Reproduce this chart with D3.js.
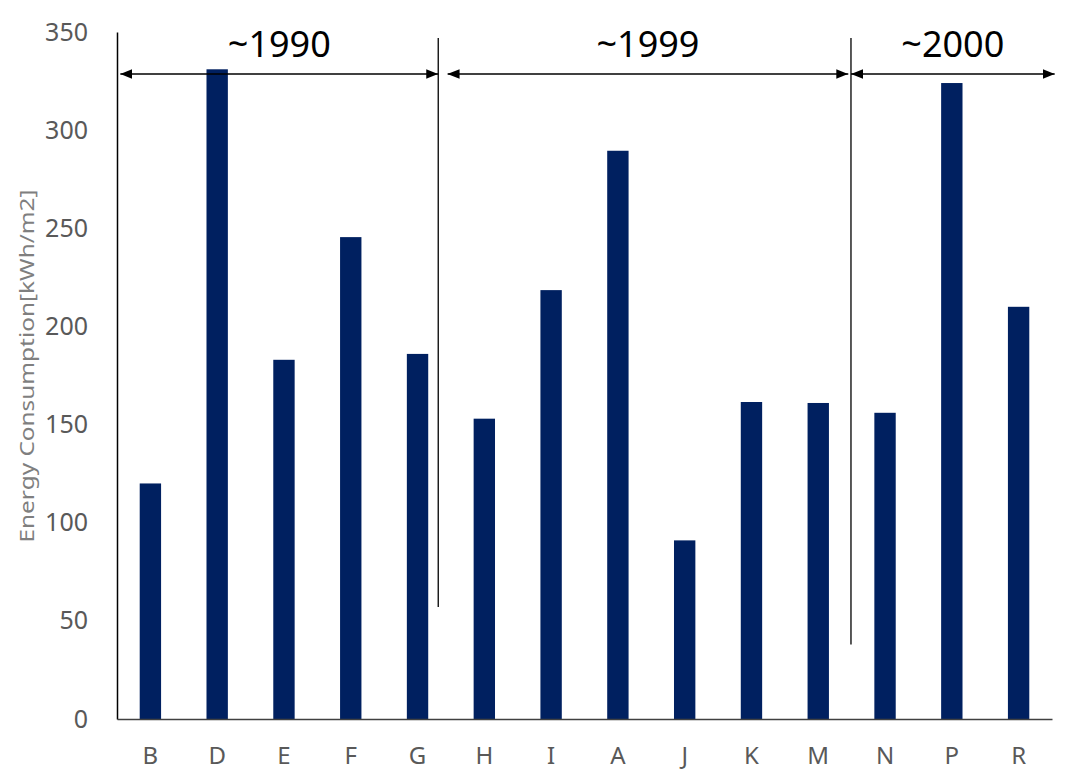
<!DOCTYPE html>
<html><head><meta charset="utf-8">
<script src="https://cdn.jsdelivr.net/npm/d3@7"></script>
<style>body{margin:0;background:#fff;} svg{display:block;}</style>
</head><body>
<svg id="c" width="1069" height="783"></svg>
<script>
const categories = ["B","D","E","F","G","H","I","A","J","K","M","N","P","R"];
const values = [120,331,183,245.5,186,153,218.5,289.5,91,161.5,161,156,324,210];
const yTicks = [0,50,100,150,200,250,300,350];
const periodLabels = ["~1990","~1999","~2000"];
// period spans in category-index units (start, end)
const periodStarts = [0.05,4.95,10.99];
const periodEnds = [4.81,10.95,14.04];
// divider lines: index position and top/bottom in data units
const dividerPos = [4.81,10.99];
const dividerBottom = [57,38];
const dividerTop = 347;

(function(){
const svg = d3.select("#c");
const mLeft = 117, mRight = 1052, mTop = 32, mBottom = 719;
const font = "'Noto Sans', sans-serif";

const x = d3.scaleBand().domain(categories).range([mLeft,mRight]).paddingInner(0.68).paddingOuter(0.34);
const y = d3.scaleLinear().domain([0,350]).range([mBottom,mTop]);
const xi = d3.scaleLinear().domain([0,categories.length]).range([mLeft,mRight]);

// bars
svg.append("g").selectAll("rect").data(values).join("rect")
  .attr("x",(d,i)=>x(categories[i])).attr("width",x.bandwidth())
  .attr("y",d=>y(d)).attr("height",d=>y(0)-y(d))
  .attr("fill","#002060");

// axes
const yAxis = d3.axisLeft(y).tickValues(yTicks).tickSize(0).tickPadding(29);
const gy = svg.append("g").attr("transform",`translate(${mLeft},0)`).call(yAxis);
gy.select(".domain").attr("stroke","#000").attr("stroke-width",1.5);
gy.selectAll("text").attr("font-family",font).attr("font-size",25).attr("fill","#595959");

const xAxis = d3.axisBottom(x).tickSize(0).tickPadding(28);
const gx = svg.append("g").attr("transform",`translate(0,${mBottom})`).call(xAxis);
gx.select(".domain").attr("stroke","#404040").attr("stroke-width",1.5);
gx.selectAll("text").attr("font-family",font).attr("font-size",24).attr("fill","#595959");

// y title
svg.append("text").attr("transform",`translate(34,366) rotate(-90)`)
  .attr("text-anchor","middle").attr("font-family",font).attr("font-size",19)
  .attr("textLength",353).attr("lengthAdjust","spacingAndGlyphs")
  .attr("fill","#7f7f7f").text("Energy Consumption[kWh/m2]");

// markers
const defs = svg.append("defs");
defs.append("marker").attr("id","ah").attr("viewBox","0 0 10 10").attr("refX",10).attr("refY",5)
  .attr("markerWidth",12).attr("markerHeight",12).attr("markerUnits","userSpaceOnUse").attr("orient","auto-start-reverse")
  .append("path").attr("d","M0,1 L10,5 L0,9 Z").attr("fill","#000");

// dividers
svg.append("g").selectAll("line").data(dividerPos).join("line")
  .attr("x1",d=>xi(d)).attr("x2",d=>xi(d))
  .attr("y1",y(dividerTop)).attr("y2",(d,i)=>y(dividerBottom[i]))
  .attr("stroke","#000").attr("stroke-width",1.3);

// arrows
const arrowY = 74;
svg.append("g").selectAll("line").data(periodStarts).join("line")
  .attr("x1",d=>xi(d)).attr("x2",(d,i)=>xi(periodEnds[i]))
  .attr("y1",arrowY).attr("y2",arrowY)
  .attr("stroke","#000").attr("stroke-width",1.5)
  .attr("marker-start","url(#ah)").attr("marker-end","url(#ah)");

svg.append("g").selectAll("text").data(periodLabels).join("text")
  .attr("x",(d,i)=>(xi(periodStarts[i])+xi(periodEnds[i]))/2)
  .attr("y",57).attr("text-anchor","middle")
  .attr("font-family",font).attr("font-size",36).attr("fill","#000").text(d=>d);
})();
</script>
</body></html>
